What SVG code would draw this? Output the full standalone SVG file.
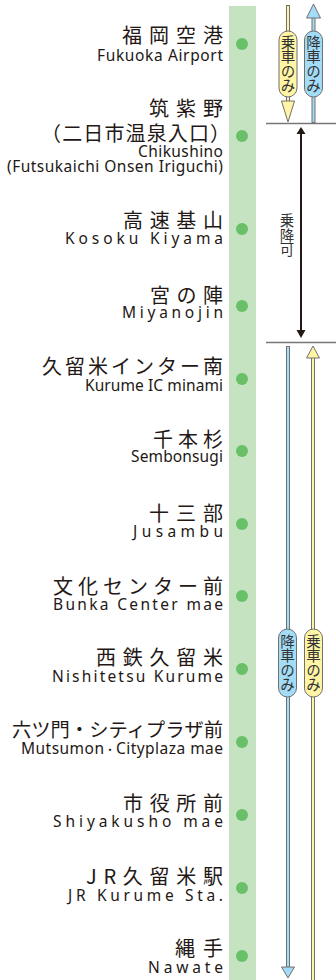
<svg xmlns="http://www.w3.org/2000/svg" width="336" height="980" viewBox="0 0 336 980">
<style>
.jp{font-family:"Noto Sans CJK JP","Noto Sans",sans-serif;font-size:20px;fill:#231815;}
.en{font-family:"Noto Sans","Liberation Sans","Noto Sans CJK JP",sans-serif;font-size:15.5px;fill:#231815;}
.dot{fill:#6abf69;}
.pl{font-family:"Noto Sans CJK JP",sans-serif;font-size:14.5px;fill:#333;text-anchor:middle;writing-mode:vertical-rl;}
.sho{stroke:#707070;stroke-width:4;fill:none;}
.sy{stroke:#fff5a5;stroke-width:2;fill:none;}
.sb{stroke:#a3dcf7;stroke-width:2;fill:none;}
.hy{fill:#fff5a5;stroke:#707070;stroke-width:1;}
.hb{fill:#a3dcf7;stroke:#707070;stroke-width:1;}
.sep{stroke:#777;stroke-width:1.5;}
</style>
<rect x="229" y="6" width="27" height="974" fill="#c5e3c0"/>

<g id="fukuoka-airport"><text class="jp" x="223" y="42.5" text-anchor="end" textLength="101" lengthAdjust="spacing">福岡空港</text><text class="en" x="223" y="61" text-anchor="end" textLength="126" lengthAdjust="spacing">Fukuoka Airport</text><circle class="dot" cx="242" cy="44" r="6"/></g>
<g id="chikushino"><text class="jp" x="223" y="115.5" text-anchor="end" textLength="74" lengthAdjust="spacing">筑紫野</text><text class="jp" x="41" y="140.5" textLength="189" lengthAdjust="spacing">（二日市温泉入口）</text><text class="en" x="223" y="157" text-anchor="end" textLength="85" lengthAdjust="spacing">Chikushino</text><text class="en" x="223" y="172" text-anchor="end" textLength="216" lengthAdjust="spacing">(Futsukaichi Onsen Iriguchi)</text><circle class="dot" cx="242" cy="136" r="6"/></g>
<g id="kosoku-kiyama"><text class="jp" x="223" y="227.5" text-anchor="end" textLength="100" lengthAdjust="spacing">高速基山</text><text class="en" x="223" y="244" text-anchor="end" textLength="158" lengthAdjust="spacing">Kosoku Kiyama</text><circle class="dot" cx="242" cy="229" r="6"/></g>
<g id="miyanojin"><text class="jp" x="223" y="302.5" text-anchor="end" textLength="73" lengthAdjust="spacing">宮の陣</text><text class="en" x="223" y="318" text-anchor="end" textLength="101" lengthAdjust="spacing">Miyanojin</text><circle class="dot" cx="242" cy="306" r="6"/></g>
<g id="kurume-ic-minami"><text class="jp" x="223" y="373.5" text-anchor="end" textLength="181" lengthAdjust="spacing">久留米インター南</text><text class="en" x="223" y="391" text-anchor="end" textLength="138" lengthAdjust="spacing">Kurume IC minami</text><circle class="dot" cx="242" cy="379" r="6"/></g>
<g id="sembonsugi"><text class="jp" x="223" y="446.5" text-anchor="end" textLength="70" lengthAdjust="spacing">千本杉</text><text class="en" x="223" y="462" text-anchor="end" textLength="92" lengthAdjust="spacing">Sembonsugi</text><circle class="dot" cx="242" cy="451" r="6"/></g>
<g id="jusambu"><text class="jp" x="223" y="520.5" text-anchor="end" textLength="74" lengthAdjust="spacing">十三部</text><text class="en" x="223" y="537" text-anchor="end" textLength="90" lengthAdjust="spacing">Jusambu</text><circle class="dot" cx="242" cy="524" r="6"/></g>
<g id="bunka-center-mae"><text class="jp" x="223" y="593.5" text-anchor="end" textLength="170" lengthAdjust="spacing">文化センター前</text><text class="en" x="223" y="610" text-anchor="end" textLength="170" lengthAdjust="spacing">Bunka Center mae</text><circle class="dot" cx="242" cy="596" r="6"/></g>
<g id="nishitetsu-kurume"><text class="jp" x="223" y="664.5" text-anchor="end" textLength="127" lengthAdjust="spacing">西鉄久留米</text><text class="en" x="223" y="682" text-anchor="end" textLength="171" lengthAdjust="spacing">Nishitetsu Kurume</text><circle class="dot" cx="242" cy="669" r="6"/></g>
<g id="mutsumon"><text class="jp" x="223" y="736.5" text-anchor="end" textLength="211" lengthAdjust="spacingAndGlyphs" style="font-size:19px">六ツ門・シティプラザ前</text><text class="en" x="223" y="754" text-anchor="end" textLength="202" lengthAdjust="spacing">Mutsumon<tspan style="font-size:11px">・</tspan>Cityplaza mae</text><circle class="dot" cx="242" cy="742" r="6"/></g>
<g id="shiyakusho-mae"><text class="jp" x="223" y="810.5" text-anchor="end" textLength="100" lengthAdjust="spacing">市役所前</text><text class="en" x="223" y="827" text-anchor="end" textLength="170" lengthAdjust="spacing">Shiyakusho mae</text><circle class="dot" cx="242" cy="815" r="6"/></g>
<g id="jr-kurume"><text class="jp" x="223" y="883.5" text-anchor="end" textLength="137" lengthAdjust="spacing">JR久留米駅</text><text class="en" x="223" y="901" text-anchor="end" textLength="155" lengthAdjust="spacing">JR Kurume Sta.</text><circle class="dot" cx="242" cy="888" r="6"/></g>
<g id="nawate"><text class="jp" x="223" y="955.5" text-anchor="end" textLength="48" lengthAdjust="spacing">縄手</text><text class="en" x="223" y="973" text-anchor="end" textLength="75" lengthAdjust="spacing">Nawate</text><circle class="dot" cx="242" cy="956" r="6"/></g>

<g id="connectors">
<line class="sep" x1="266" y1="123.5" x2="336" y2="123.5"/>
<line class="sep" x1="266" y1="342.5" x2="336" y2="342.5"/>
<line class="sho" x1="288" y1="5" x2="288" y2="102"/><line class="sy" x1="288" y1="6" x2="288" y2="103"/>
<polygon class="hy" points="281.5,101 294.5,101 288,122"/>
<line class="sho" x1="313.5" y1="18" x2="313.5" y2="123"/><line class="sb" x1="313.5" y1="17" x2="313.5" y2="122"/>
<polygon class="hb" points="306.5,18 320.5,18 313.5,4"/>
<line x1="301" y1="133" x2="301" y2="331" stroke="#231815" stroke-width="2"/>
<polygon points="296.5,134 305.5,134 301,127" fill="#231815"/>
<polygon points="296.5,330 305.5,330 301,338" fill="#231815"/>
<line class="sho" x1="288" y1="346" x2="288" y2="968"/><line class="sb" x1="288" y1="347" x2="288" y2="969"/>
<polygon class="hb" points="281.5,967 294.5,967 288,978"/>
<line class="sho" x1="313" y1="358" x2="313" y2="981"/><line class="sy" x1="313" y1="357" x2="313" y2="981"/>
<polygon class="hy" points="306.5,358 319.5,358 313,346"/>
</g>

<g id="label-top-board"><rect x="279" y="31" width="18" height="66" rx="9" class="hy"/><text class="pl" x="288" y="64">乗車のみ</text></g>
<g id="label-top-alight"><rect x="304.5" y="31" width="18" height="66" rx="9" class="hb"/><text class="pl" x="313.5" y="64">降車のみ</text></g>
<g id="label-both"><text class="pl" x="287" y="235" style="font-size:14.5px">乗降可</text></g>
<g id="label-bottom-alight"><rect x="278.5" y="629" width="18" height="68" rx="9" class="hb"/><text class="pl" x="287.5" y="663">降車のみ</text></g>
<g id="label-bottom-board"><rect x="304.5" y="629" width="18" height="68" rx="9" class="hy"/><text class="pl" x="313.5" y="663">乗車のみ</text></g>
</svg>
